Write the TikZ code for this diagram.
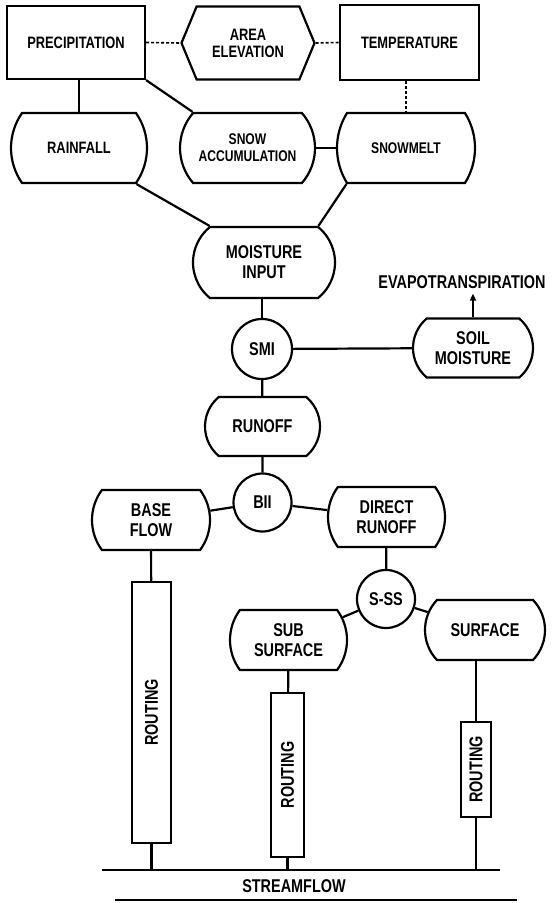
\documentclass[tikz,border=0pt]{standalone}
\usepackage{fontspec}
\usepackage{graphicx}
\usetikzlibrary{shapes.misc,shapes.symbols,arrows.meta}
\newfontfamily\labfont{Liberation Sans}[FakeStretch=0.78]

\begin{document}
\begin{tikzpicture}[x=1pt, y=-1pt, line width=2.2pt,
  every node/.style={font=\labfont\bfseries\fontsize{16.5}{17}\selectfont, align=center, inner sep=0pt},
  big/.style={font=\labfont\bfseries\fontsize{18.5}{20}\selectfont},
  small/.style={font=\labfont\bfseries\fontsize{15.5}{17}\selectfont},
  sbox/.style={draw, rectangle},
  store/.style={draw, rounded rectangle, rounded rectangle arc length=#1},
  store/.default=80,
  junc/.style={draw, circle, minimum size=60},
  route/.style={draw, rectangle},
  dots/.style={line width=1.6pt, dash pattern=on 3pt off 2pt}]
  \useasboundingbox (0,0) rectangle (555,903);

  % inputs
  \node[sbox, minimum width=138, minimum height=73] (precip) at (76,42.5) {PRECIPITATION};
  \node[draw, signal, signal to=west and east, signal pointer angle=135,
        minimum width=133, minimum height=73] (area) at (248,43) {AREA\\ELEVATION};
  \node[sbox, minimum width=139, minimum height=75] (temp) at (409.5,42.5) {TEMPERATURE};

  % snow model
  \node[store=70, minimum width=136, minimum height=70] (rain) at (79,148) {RAINFALL};
  \node[store=82, small, minimum width=135, minimum height=70] (snowacc) at (247.5,148) {SNOW\\ACCUMULATION};
  \node[store=64, small, minimum width=138, minimum height=70] (melt) at (406,148) {SNOWMELT};
  \node[store=102, big, minimum width=142, minimum height=71] (moist) at (264,262.5) {MOISTURE\\INPUT};

  % soil moisture
  \node[junc, big] (smi) at (262,349) {SMI};
  \node[store=100, big, minimum width=120, minimum height=59] (soil) at (473,348) {SOIL\\MOISTURE};
  \node[big] (evap) at (462,282) {EVAPOTRANSPIRATION};
  \node[store=100, big, minimum width=115, minimum height=59] (runoff) at (262.5,426.5) {RUNOFF};

  % runoff split
  \node[junc, big, minimum size=58] (bii) at (262.5,502.5) {BII};
  \node[store=73, big, minimum width=118, minimum height=60] (base) at (151,520) {BASE\\FLOW};
  \node[store=73, big, minimum width=117, minimum height=60] (direct) at (386.5,517) {DIRECT\\RUNOFF};
  \node[junc, big, minimum size=58] (sss) at (386,599) {S-SS};
  \node[store=73, big, minimum width=117, minimum height=60] (sub) at (288.5,640) {SUB\\SURFACE};
  \node[store=87, big, minimum width=120, minimum height=60] (surf) at (485,630) {SURFACE};

  % routing
  \node[route, big, minimum width=39, minimum height=261] (rbase) at (151.5,712.5) {\rotatebox{90}{ROUTING}};
  \node[route, big, minimum width=33, minimum height=164] (rsub) at (287.5,775) {\rotatebox{90}{ROUTING}};
  \node[route, big, minimum width=30, minimum height=95] (rsurf) at (476,769.5) {\rotatebox{90}{ROUTING}};

  % streamflow
  \coordinate (sfl) at (102,870);
  \coordinate (sfr) at (500,870);
  \coordinate (sbl) at (115,900);
  \coordinate (sbr) at (517,900);
  \node[big] (stream) at (294,886) {STREAMFLOW};
  \draw (sfl) -- (sfr);
  \draw (sbl) -- (sbr);

  % connectors
  \draw[dots] (precip.east) -- (area.west);
  \draw[dots] (area.east) -- (temp.west);
  \draw[dots] (temp.south -| melt.north) -- (melt.north);
  \draw (precip.south -| rain.north) -- (rain.north);
  \draw (precip.south east) -- (snowacc.north west);
  \draw (snowacc.east) -- (melt.west);
  \draw (rain.south east) -- (moist.north west);
  \draw (melt.south west) -- (moist.north east);
  \draw (moist.south -| smi.north) -- (smi.north);
  \draw (smi) -- (soil);
  \draw[-{Triangle[length=7pt,width=6pt]}, shorten >=4pt] (soil.north) -- (soil.north |- evap.south);
  \draw (smi) -- (runoff);
  \draw (runoff) -- (bii);
  \draw (bii) -- (base);
  \draw (bii) -- (direct);
  \draw (direct) -- (sss);
  \draw (sss) -- (sub);
  \draw (sss) -- (surf);
  \draw (base) -- (rbase);
  \draw (sub) -- (rsub);
  \draw (surf.south -| rsurf.north) -- (rsurf.north);
  \draw (rbase.south) -- (rbase.south |- sfl);
  \draw (rsub.south) -- (rsub.south |- sfl);
  \draw (rsurf.south) -- (rsurf.south |- sfl);
\end{tikzpicture}
\end{document}
